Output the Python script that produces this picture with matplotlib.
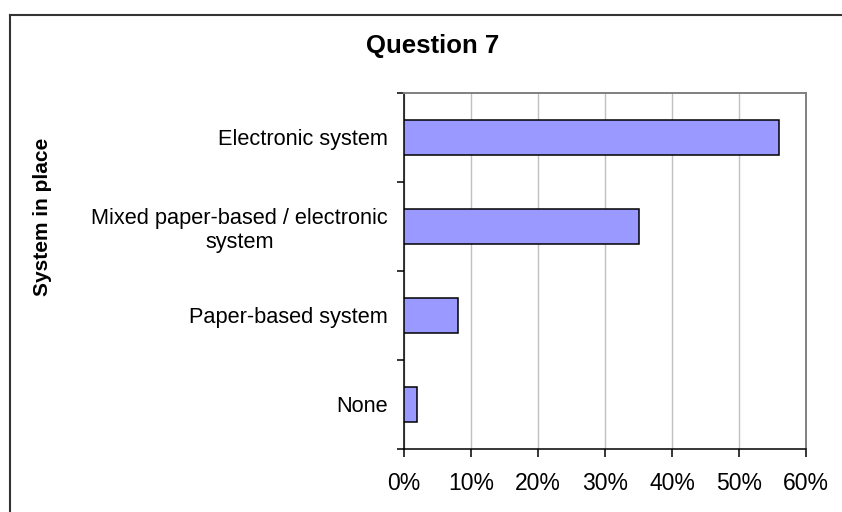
import matplotlib
matplotlib.use("Agg")
import matplotlib.pyplot as plt
from matplotlib.lines import Line2D
from matplotlib.ticker import FixedLocator, PercentFormatter, NullFormatter

plt.rcParams['font.family'] = ['Liberation Sans', 'DejaVu Sans']

categories = ["None", "Paper-based system",
              "Mixed paper-based / electronic\nsystem", "Electronic system"]
shares = [2, 8, 35, 56]
x_ticks = [0, 10, 20, 30, 40, 50, 60]

W, H = 842, 512
fig = plt.figure(figsize=(W / 100, H / 100), dpi=100)
ax = fig.add_axes([404 / W, 1 - 449 / H, (806 - 404) / W, (449 - 93) / H])

pos = list(range(len(categories)))
ax.barh(pos, shares, height=0.4, color="#9999FF", edgecolor="black",
        linewidth=1.1, zorder=3)

ax.set_xlim(0, 60)
ax.set_ylim(-0.5, len(categories) - 0.5)
ax.set_xticks(x_ticks)
ax.xaxis.set_major_formatter(PercentFormatter(decimals=0))
ax.tick_params(axis="x", direction="out", length=5.5, width=1.1,
               labelsize=16.5, pad=11, color="black")

# category boundaries carry the tick marks, labels sit at bar centres
ax.yaxis.set_major_locator(FixedLocator([p - 0.5 for p in pos] + [pos[-1] + 0.5]))
ax.yaxis.set_major_formatter(NullFormatter())
ax.yaxis.set_minor_locator(FixedLocator(pos))
ax.set_yticklabels(categories, minor=True, fontsize=15.7)
ax.tick_params(axis="y", which="major", direction="out", length=5, width=1.1)
ax.tick_params(axis="y", which="minor", length=0, pad=11.5)
for lbl in ax.get_yticklabels(minor=True):
    lbl.set_multialignment("center")

ax.grid(axis="x", color="#c0c0c0", linewidth=1.0, zorder=0)
ax.grid(axis="y", visible=False)
ax.set_axisbelow(True)

for side in ("left", "bottom"):
    ax.spines[side].set_color("black")
    ax.spines[side].set_linewidth(1.1)
for side in ("top", "right"):
    ax.spines[side].set_color("#808080")
    ax.spines[side].set_linewidth(1.4)

fig.text(433 / W, 1 - 53 / H, "Question 7", ha="center", va="baseline",
         fontsize=18.5, fontweight="bold")
fig.text(43 / W, 1 - 217 / H, "System in place", ha="center", va="center",
         rotation=90, fontsize=15, fontweight="bold")

# chart frame, running off the right and bottom edges
fig.add_artist(Line2D([10 / W, 10 / W], [1 - 15 / H, -0.05],
                      transform=fig.transFigure, color="#333333", linewidth=1.5))
fig.add_artist(Line2D([10 / W, 1.05], [1 - 15 / H, 1 - 15 / H],
                      transform=fig.transFigure, color="#333333", linewidth=1.5))

fig.savefig("out.png", dpi=100, facecolor="white")
